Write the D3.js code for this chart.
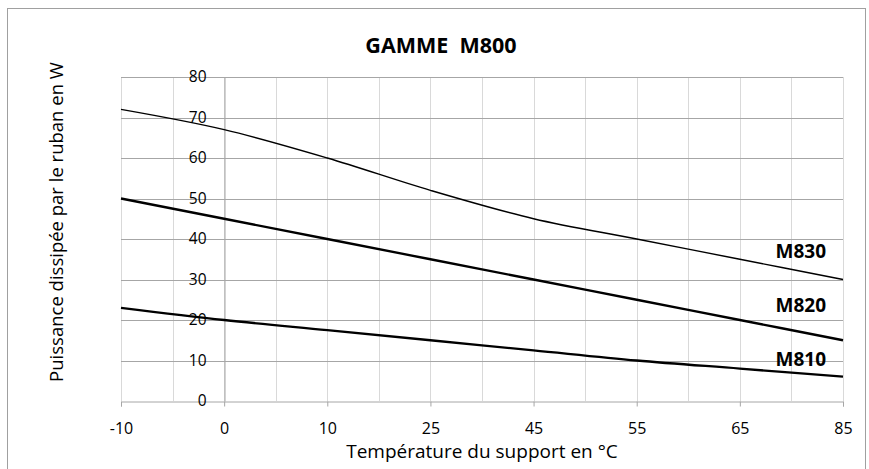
<!DOCTYPE html>
<html>
<head>
<meta charset="utf-8">
<script src="https://cdn.jsdelivr.net/npm/d3@7"></script>
<style>
    body { margin: 0; background: #fff; }
    text { font-family: 'Open Sans', sans-serif; fill: #000; }
    .axis path, .axis line { stroke: #a6a6a6; }
    .grid-minor { stroke: #d9d9d9; }
    .grid-major { stroke: #a6a6a6; }
</style>
</head>
<body>
<svg id="chart"></svg>
<script>
// temperature categories (x axis is categorical, equally spaced)
const categories = ['-10', '0', '10', '25', '45', '55', '65', '85'];
const yTicks = [0, 10, 20, 30, 40, 50, 60, 70, 80];

const m830 = [72, 67, 60, 52, 45, 40, 35, 30];
const m820 = [50, 45, 40, 35, 30, 25, 20, 15];
const m810 = [23, 20, 17.5, 15, 12.5, 10, 8, 6];

const seriesNames = ['M830', 'M820', 'M810'];
const seriesWidths = [1.4, 2.3, 2.3];
// y value where each series label sits, next to the right end
const labelValues = [37, 23.6, 10.4];

class PowerChart {
    constructor(_config) {
        this.config = {
            parentElement: _config.parentElement,
            containerWidth: _config.containerWidth || 869,
            containerHeight: _config.containerHeight || 469,
            margin: { top: 77, right: 26, bottom: 68, left: 121 }
        }
        this.initVis();
    }

    initVis() {
        let vis = this;

        vis.width = vis.config.containerWidth - vis.config.margin.left - vis.config.margin.right;
        vis.height = vis.config.containerHeight - vis.config.margin.top - vis.config.margin.bottom;

        vis.xScale = d3.scalePoint()
            .domain(categories)
            .range([0, vis.width]);

        vis.yScale = d3.scaleLinear()
            .domain([0, 80])
            .range([vis.height, 0]);

        vis.svg = d3.select(vis.config.parentElement)
            .attr('width', vis.config.containerWidth)
            .attr('height', vis.config.containerHeight);

        // chart area border
        vis.svg.append('rect')
            .attr('x', 7.5)
            .attr('y', 8.5)
            .attr('width', 858)
            .attr('height', 480)
            .attr('fill', 'none')
            .attr('stroke', '#a0a0a0');

        vis.chart = vis.svg.append('g')
            .attr('transform', `translate(${vis.config.margin.left},${vis.config.margin.top})`);

        vis.updateVis();
    }

    updateVis() {
        let vis = this;

        vis.series = seriesNames.map((name, i) => ({
            name: name,
            width: seriesWidths[i],
            labelValue: labelValues[i],
            values: [m830, m820, m810][i].map((v, j) => ({ cat: categories[j], value: v }))
        }));

        // vertical gridlines on every category and halfway between them
        let step = vis.xScale.step();
        vis.vLines = [];
        categories.forEach((c, i) => {
            vis.vLines.push(vis.xScale(c));
            if (i < categories.length - 1) vis.vLines.push(vis.xScale(c) + step / 2);
        });

        vis.renderVis();
    }

    renderVis() {
        let vis = this;

        vis.chart.append('g')
            .selectAll('line')
            .data(vis.vLines)
            .join('line')
            .attr('class', 'grid-minor')
            .attr('x1', d => Math.round(d) + 0.5)
            .attr('x2', d => Math.round(d) + 0.5)
            .attr('y1', 0)
            .attr('y2', vis.height);

        vis.chart.append('g')
            .selectAll('line')
            .data(yTicks.filter(d => d > 0))
            .join('line')
            .attr('class', 'grid-major')
            .attr('x1', 0)
            .attr('x2', vis.width)
            .attr('y1', d => Math.round(vis.yScale(d)) + 0.5)
            .attr('y2', d => Math.round(vis.yScale(d)) + 0.5);

        // x axis along 0
        vis.xAxis = d3.axisBottom(vis.xScale)
            .tickSize(5)
            .tickPadding(16);

        vis.xAxisG = vis.chart.append('g')
            .attr('class', 'axis x-axis')
            .attr('transform', `translate(0,${Math.round(vis.height) + 0.5})`)
            .call(vis.xAxis);
        vis.xAxisG.selectAll('text').style('font-size', '16px');

        // y axis crosses at category "0"
        vis.yAxis = d3.axisLeft(vis.yScale)
            .tickValues(yTicks)
            .tickSize(0)
            .tickPadding(18);

        vis.yAxisG = vis.chart.append('g')
            .attr('class', 'axis y-axis')
            .attr('transform', `translate(${Math.round(vis.xScale('0')) + 0.5},0)`)
            .call(vis.yAxis);
        vis.yAxisG.selectAll('text').style('font-size', '15.5px');

        const line = d3.line()
            .x(d => vis.xScale(d.cat))
            .y(d => vis.yScale(d.value))
            .curve(d3.curveCatmullRom);

        vis.chart.selectAll('.series')
            .data(vis.series)
            .join('path')
            .attr('class', 'series')
            .attr('fill', 'none')
            .attr('stroke', '#000')
            .attr('stroke-width', d => d.width)
            .attr('d', d => line(d.values));

        vis.chart.selectAll('.series-label')
            .data(vis.series)
            .join('text')
            .attr('class', 'series-label')
            .attr('x', vis.xScale('85') - 17)
            .attr('y', d => vis.yScale(d.labelValue))
            .attr('dy', '0.36em')
            .attr('text-anchor', 'end')
            .style('font-size', '19px')
            .style('font-weight', 'bold')
            .text(d => d.name);

        // title (keeps the double space)
        vis.svg.append('text')
            .attr('x', 441)
            .attr('y', 45)
            .attr('dy', '0.36em')
            .attr('text-anchor', 'middle')
            .style('font-size', '21.5px')
            .style('font-weight', 'bold')
            .style('white-space', 'pre')
            .text('GAMME  M800');

        // Append a label for the x-axis
        vis.chart.append('text')
            .attr('x', vis.width / 2)
            .attr('y', vis.height + 57)
            .attr('text-anchor', 'middle')
            .style('font-size', '19px')
            .text('Température du support en °C');

        // Append a label for the y-axis
        vis.svg.append('text')
            .attr('transform', 'translate(56, 222) rotate(-90)')
            .attr('dy', '0.36em')
            .attr('text-anchor', 'middle')
            .style('font-size', '18.5px')
            .text('Puissance dissipée par le ruban en W');
    }
}

new PowerChart({ parentElement: '#chart' });
</script>
</body>
</html>
